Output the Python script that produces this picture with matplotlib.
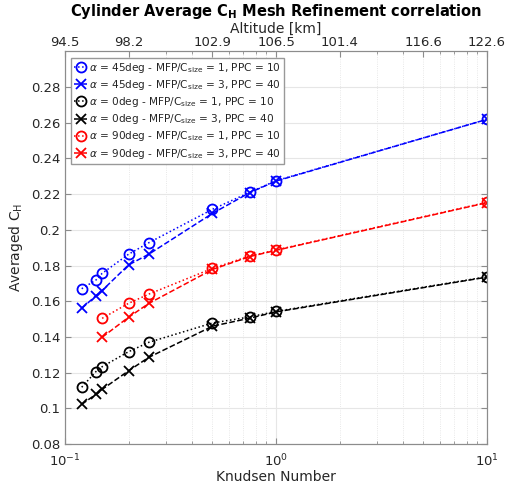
import numpy as np
import matplotlib
matplotlib.use("Agg")
import matplotlib.pyplot as plt
from matplotlib.ticker import FixedLocator, LogLocator, NullFormatter

# Knudsen numbers of the simulated cases
kn_fine = [0.12, 0.14, 0.15, 0.2, 0.25, 0.5, 0.75, 1.0, 10.0]
kn_red = [0.15, 0.2, 0.25, 0.5, 0.75, 1.0, 10.0]

# averaged heat transfer coefficient, MFP/Csize = 1 (PPC 10) and 3 (PPC 40)
ch_45_fine = [0.167, 0.1718, 0.1756, 0.1863, 0.1928, 0.2115, 0.2210, 0.2275, 0.2619]
ch_45_coarse = [0.1560, 0.1630, 0.1660, 0.1803, 0.1864, 0.2092, 0.2208, 0.2273, 0.2619]
ch_0_fine = [0.1118, 0.1205, 0.1233, 0.1317, 0.1370, 0.1478, 0.1512, 0.1543, 0.1737]
ch_0_coarse = [0.1022, 0.1078, 0.1106, 0.1210, 0.1286, 0.1460, 0.1505, 0.1540, 0.1735]
ch_90_fine = [0.1504, 0.1588, 0.1640, 0.1784, 0.1853, 0.1887, 0.2154]
ch_90_coarse = [0.1398, 0.1510, 0.1588, 0.1778, 0.1850, 0.1885, 0.2152]

# altitude labels for the top axis
alt_kn = [0.1, 0.2, 0.5, 1, 2, 5, 10]
alt_labels = ["94.5", "98.2", "102.9", "106.5", "101.4", "116.6", "122.6"]

y_ticks = [0.08, 0.10, 0.12, 0.14, 0.16, 0.18, 0.20, 0.22, 0.24, 0.26, 0.28]

txt = "#262626"
spine = "#8c8c8c"

fig = plt.figure(figsize=(5.17, 4.86), dpi=100)
ax = fig.add_axes([0.1257, 0.0864, 0.8163, 0.808])

series = [
    (kn_fine, ch_45_fine, "b", "o", ":", r"$\alpha$ = 45deg - MFP/C$_{\mathrm{size}}$ = 1, PPC = 10"),
    (kn_fine, ch_45_coarse, "b", "x", "--", r"$\alpha$ = 45deg - MFP/C$_{\mathrm{size}}$ = 3, PPC = 40"),
    (kn_fine, ch_0_fine, "k", "o", ":", r"$\alpha$ = 0deg - MFP/C$_{\mathrm{size}}$ = 1, PPC = 10"),
    (kn_fine, ch_0_coarse, "k", "x", "--", r"$\alpha$ = 0deg - MFP/C$_{\mathrm{size}}$ = 3, PPC = 40"),
    (kn_red, ch_90_fine, "r", "o", ":", r"$\alpha$ = 90deg - MFP/C$_{\mathrm{size}}$ = 1, PPC = 10"),
    (kn_red, ch_90_coarse, "r", "x", "--", r"$\alpha$ = 90deg - MFP/C$_{\mathrm{size}}$ = 3, PPC = 40"),
]
for x, y, c, m, ls, lab in series:
    ax.plot(x, y, color=c, marker=m, linestyle=ls, lw=1.1, ms=7.2 if m == "o" else 6.5,
            mfc="none", mew=1.3, label=lab)

ax.set_xscale("log")
ax.set_xlim(0.1, 10)
ax.set_ylim(0.08, 0.30)
ax.set_yticks(y_ticks)
ax.set_yticklabels([f"{v:g}" for v in y_ticks])
ax.xaxis.set_minor_locator(LogLocator(base=10, subs=np.arange(2, 10)))
ax.xaxis.set_minor_formatter(NullFormatter())

ax.grid(True, which="major", color="#e6e6e6", lw=0.8)
ax.grid(True, which="minor", axis="x", color="#e0e0e0", lw=0.6, linestyle=":")
ax.set_axisbelow(True)

for s in ax.spines.values():
    s.set_color(spine)
ax.tick_params(which="both", direction="in", colors=spine, labelcolor=txt, labelsize=9.5)
ax.tick_params(axis="x", pad=6)
ax.tick_params(which="major", length=4)
ax.tick_params(which="minor", length=2.5)
ax.tick_params(axis="y", right=True, labelright=False)

ax.set_xlabel("Knudsen Number", fontsize=10, color=txt, labelpad=1)
ax.set_ylabel(r"Averaged C$_{\mathrm{H}}$", fontsize=10, color=txt, labelpad=4)

# top axis: altitude corresponding to each Knudsen number
top = ax.twiny()
top.set_xscale("log")
top.set_xlim(ax.get_xlim())
top.xaxis.set_major_locator(FixedLocator(alt_kn))
top.set_xticklabels(alt_labels)
top.xaxis.set_minor_locator(LogLocator(base=10, subs=np.arange(2, 10)))
top.xaxis.set_minor_formatter(NullFormatter())
for s in top.spines.values():
    s.set_color(spine)
top.tick_params(which="both", direction="in", colors=spine, labelcolor=txt, labelsize=9.5, pad=2)
top.tick_params(which="major", length=4)
top.tick_params(which="minor", length=2.5)
top.set_xlabel("Altitude [km]", fontsize=10, color=txt, labelpad=2)
top.set_title(r"Cylinder Average C$_{\mathbf{H}}$ Mesh Refinement correlation",
              fontsize=10.5, fontweight="bold", pad=4)

leg = ax.legend(loc="upper left", fontsize=7.6, handlelength=1.2, handletextpad=0.2,
                borderpad=0.3, labelspacing=0.3, borderaxespad=0.6, fancybox=False,
                framealpha=1, edgecolor="#999999")
for t in leg.get_texts():
    t.set_color(txt)

fig.savefig("out.png", dpi=100)
